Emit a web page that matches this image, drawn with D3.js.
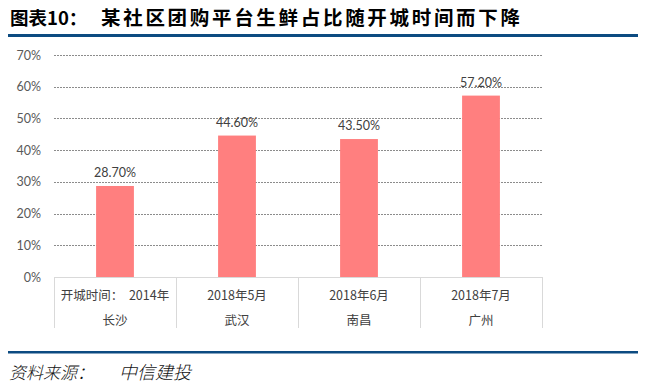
<!DOCTYPE html>
<html><head><meta charset="utf-8">
<script src="https://cdn.jsdelivr.net/npm/d3@7"></script>
<style>body{margin:0;background:#fff}svg{display:block}</style>
</head><body>
<svg id="c" width="649" height="389"></svg>
<script>
const categories = ["长沙", "武汉", "南昌", "广州"];
const openDates = ["开城时间：  2014年", "2018年5月", "2018年6月", "2018年7月"];
const freshShare = [0.287, 0.446, 0.435, 0.572];
const yTicks = [0, 0.1, 0.2, 0.3, 0.4, 0.5, 0.6, 0.7];

const svg = d3.select("#c");
const cjk = "'Noto Sans CJK SC', sans-serif";
const num = "Lato, 'Liberation Sans', sans-serif";

// title
svg.append("text").attr("x", 10).attr("y", 25)
  .attr("font-family", cjk).attr("font-weight", "bold").attr("font-size", 18.5)
  .attr("fill", "#000").text("图表10：");
svg.append("text").attr("x", 101).attr("y", 25)
  .attr("font-family", cjk).attr("font-weight", "bold").attr("font-size", 19.5)
  .attr("textLength", 419).attr("lengthAdjust", "spacing")
  .attr("fill", "#000").text("某社区团购平台生鲜占比随开城时间而下降");
svg.append("rect").attr("x", 8).attr("y", 34).attr("width", 630).attr("height", 3).attr("fill", "#0c4b81");

const x = d3.scaleBand().domain(categories).range([54, 542]).padding(0);
const y = d3.scaleLinear().domain([0, 0.7]).range([277, 55]);

// grid
svg.append("g").selectAll("line").data(yTicks.filter(t => t > 0)).join("line")
  .attr("x1", 54).attr("x2", 542)
  .attr("y1", d => Math.round(y(d)) + 0.5).attr("y2", d => Math.round(y(d)) + 0.5)
  .attr("stroke", "#8c8c8c").attr("stroke-width", 1).attr("stroke-dasharray", "2,1");

// y axis labels
const yAxis = d3.axisLeft(y).tickValues(yTicks).tickFormat(d3.format(".0%")).tickSize(0).tickPadding(0);
const ya = svg.append("g").attr("transform", "translate(41,0)").call(yAxis);
ya.select(".domain").remove();
ya.selectAll("text").attr("font-family", num).attr("font-size", 12.5).attr("fill", "#595959");

// bars
const bw = x.bandwidth() * 0.31;
svg.append("g").selectAll("rect").data(freshShare).join("rect")
  .attr("x", (d, i) => x(categories[i]) + (x.bandwidth() - bw) / 2)
  .attr("y", d => y(d)).attr("width", bw).attr("height", d => y(0) - y(d))
  .attr("fill", "#ff7f7f");

// data labels
svg.append("g").selectAll("text").data(freshShare).join("text")
  .attr("x", (d, i) => x(categories[i]) + x.bandwidth() / 2)
  .attr("y", d => y(d) - 9)
  .attr("text-anchor", "middle").attr("font-family", num).attr("font-size", 12.5)
  .attr("fill", "#404040").text(d => d3.format(".2%")(d));

// table
const tg = svg.append("g");
tg.append("line").attr("x1", 54).attr("x2", 542).attr("y1", 277.5).attr("y2", 277.5)
  .attr("stroke", "#d9d9d9");
const edges = categories.map(c => x(c)).concat([x.range()[1]]);
tg.selectAll("line.v").data(edges).join("line").attr("class", "v")
  .attr("x1", d => Math.round(d) + 0.5).attr("x2", d => Math.round(d) + 0.5)
  .attr("y1", 277).attr("y2", 328).attr("stroke", "#d9d9d9");
tg.selectAll("text.r1").data(openDates).join("text").attr("class", "r1")
  .attr("x", (d, i) => x(categories[i]) + x.bandwidth() / 2).attr("y", 294)
  .attr("dominant-baseline", "central").attr("text-anchor", "middle")
  .attr("font-family", cjk).attr("font-size", 12.5).attr("fill", "#404040")
  .attr("xml:space", "preserve").style("white-space", "pre").text(d => d);
tg.selectAll("text.r2").data(categories).join("text").attr("class", "r2")
  .attr("x", d => x(d) + x.bandwidth() / 2).attr("y", 319)
  .attr("dominant-baseline", "central").attr("text-anchor", "middle")
  .attr("font-family", cjk).attr("font-size", 12.5).attr("fill", "#404040").text(d => d);

// footer
svg.append("rect").attr("x", 8).attr("y", 351).attr("width", 630).attr("height", 2.5).attr("fill", "#0c4b81");
svg.append("text").attr("x", 9).attr("y", 379).attr("font-family", cjk).attr("font-size", 17)
  .attr("font-weight", 300).attr("font-style", "italic").attr("fill", "#111").text("资料来源：");
svg.append("text").attr("x", 119).attr("y", 379).attr("font-family", cjk).attr("font-size", 18)
  .attr("font-weight", 300).attr("font-style", "italic").attr("fill", "#111").text("中信建投");
</script>
</body></html>
